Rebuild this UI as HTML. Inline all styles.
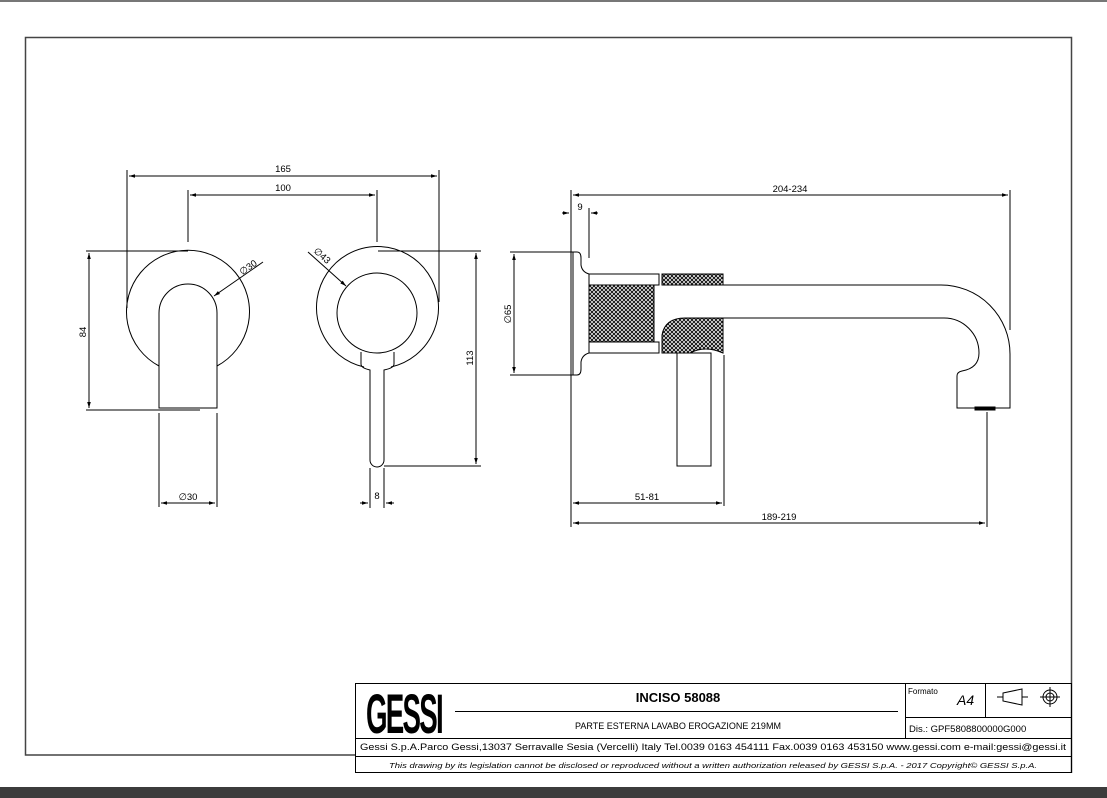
<!DOCTYPE html>
<html><head><meta charset="utf-8"><style>
html,body{margin:0;padding:0;background:#fff}
body{width:1107px;height:798px;overflow:hidden;position:relative;font-family:"Liberation Sans",sans-serif}
svg{position:absolute;left:0;top:0}
text{font-family:"Liberation Sans",sans-serif;fill:#000}
</style></head><body>
<svg width="1107" height="798" viewBox="0 0 1107 798">
<defs>
<pattern id="k" width="4" height="4" patternUnits="userSpaceOnUse">
<rect width="4" height="4" fill="#fff"/>
<path d="M0 0L4 4M4 0L0 4" stroke="#111" stroke-width="1"/>
</pattern>
<marker id="a" viewBox="0 0 10 10" refX="10" refY="5" markerWidth="8" markerHeight="6" orient="auto-start-reverse"><path d="M0 2L10 5L0 8z" fill="#000"/></marker>
</defs>
<rect x="0" y="0" width="1107" height="2" fill="#777"/>
<rect x="0" y="787" width="1107" height="11" fill="#3c3c3c"/>
<path d="M355 755H25.5V37.5H1071.5V773" fill="none" stroke="#444" stroke-width="1.5"/>

<g fill="none" stroke="#000" stroke-width="1">
<line x1="127" y1="170" x2="127" y2="308"/><line x1="439" y1="170" x2="439" y2="302"/>
<line x1="129" y1="176" x2="437" y2="176" marker-start="url(#a)" marker-end="url(#a)"/>
<line x1="188" y1="190" x2="188" y2="242"/><line x1="377" y1="190" x2="377" y2="242"/>
<line x1="190" y1="195" x2="375" y2="195" marker-start="url(#a)" marker-end="url(#a)"/>
<path d="M159 366A61.5 61.5 0 1 1 217 366"/>
<path d="M159 408V313A29 29 0 0 1 217 313V408Z"/>
<line x1="86" y1="251" x2="188" y2="251"/><line x1="86" y1="410" x2="200" y2="410"/>
<line x1="89" y1="253" x2="89" y2="408" marker-start="url(#a)" marker-end="url(#a)"/>
<line x1="263" y1="262" x2="214" y2="296" marker-end="url(#a)"/>
<line x1="159" y1="413" x2="159" y2="507"/><line x1="217" y1="413" x2="217" y2="507"/>
<line x1="161" y1="503" x2="215" y2="503" marker-start="url(#a)" marker-end="url(#a)"/>
<path d="M364 367A61 61 0 1 1 391 367"/>
<circle cx="377" cy="313" r="40"/>
<path d="M361 352V364Q361 368 370 370V460A7 7 0 0 0 384 460V370Q394 368 394 364V352"/>
<line x1="378" y1="251" x2="481" y2="251"/><line x1="384" y1="466" x2="481" y2="466"/>
<line x1="476" y1="253" x2="476" y2="464" marker-start="url(#a)" marker-end="url(#a)"/>
<line x1="308" y1="252" x2="346" y2="286" marker-end="url(#a)"/>
<line x1="370" y1="468" x2="370" y2="508"/><line x1="384" y1="468" x2="384" y2="508"/>
<line x1="360" y1="503" x2="368" y2="503" marker-end="url(#a)"/><line x1="394" y1="503" x2="386" y2="503" marker-end="url(#a)"/>
<line x1="571" y1="190" x2="571" y2="527"/>
<line x1="1010" y1="190" x2="1010" y2="330"/>
<line x1="573" y1="195" x2="1008" y2="195" marker-start="url(#a)" marker-end="url(#a)"/>
<line x1="589" y1="208" x2="589" y2="258"/>
<line x1="562" y1="213" x2="569" y2="213" marker-end="url(#a)"/><line x1="598" y1="213" x2="591" y2="213" marker-end="url(#a)"/>
<path d="M571 252H577Q581 252 581 258V265Q582 272 589 274V353Q582 355 581 362V369Q581 375 577 375H571Z"/>
<line x1="573" y1="252" x2="573" y2="375"/>
<line x1="510" y1="252" x2="571" y2="252"/><line x1="510" y1="375" x2="571" y2="375"/>
<line x1="514" y1="254" x2="514" y2="373" marker-start="url(#a)" marker-end="url(#a)"/>
<rect x="589" y="274" width="70" height="11"/><rect x="589" y="342" width="70" height="11"/>
<rect x="589" y="285" width="65" height="57" fill="url(#k)"/>
<rect x="662" y="274" width="61" height="11" fill="url(#k)"/>
<path d="M662 353V335Q665 318 685 318H723V353Q705 345 690 353Z" fill="url(#k)"/>
<path d="M723 285H941A69 69 0 0 1 1010 354V408H957V376Q957 372 962 371Q979 368 979 353A35 35 0 0 0 944 318H723"/>
<rect x="975" y="407" width="20" height="3" fill="#000"/>
<rect x="677" y="353" width="34" height="113"/>
<line x1="724" y1="355" x2="724" y2="506"/>
<line x1="573" y1="503" x2="722" y2="503" marker-start="url(#a)" marker-end="url(#a)"/>
<line x1="987" y1="412" x2="987" y2="527"/>
<line x1="573" y1="523" x2="985" y2="523" marker-start="url(#a)" marker-end="url(#a)"/>
</g>
<g font-size="9.5" text-anchor="middle">
<text x="283" y="172">165</text><text x="283" y="191">100</text>
<text x="88" y="332" transform="rotate(-90 88 332)" dy="-2">84</text>
<text x="250" y="270" transform="rotate(-35 250 270)">∅30</text>
<text x="188" y="500">∅30</text>
<text x="320" y="258" transform="rotate(42 320 258)">∅43</text>
<text x="473" y="358" transform="rotate(-90 473 358)">113</text>
<text x="377" y="499">8</text>
<text x="790" y="192">204-234</text>
<text x="580" y="210">9</text>
<text x="511" y="314" transform="rotate(-90 511 314)">∅65</text>
<text x="647" y="500">51-81</text>
<text x="779" y="520">189-219</text>
</g>
<g fill="none" stroke="#000" stroke-width="1">
<rect x="355.5" y="683.5" width="716" height="89"/>
<line x1="355" y1="738.5" x2="1072" y2="738.5"/>
<line x1="355" y1="756.5" x2="1072" y2="756.5"/>
<line x1="905.5" y1="683" x2="905.5" y2="738"/>
<line x1="985.5" y1="683" x2="985.5" y2="717"/>
<line x1="905" y1="717.5" x2="1072" y2="717.5"/>
<line x1="455" y1="711.5" x2="898" y2="711.5"/>
<path d="M1003 693L1022 689V705L1003 701Z"/><line x1="997" y1="697" x2="1003" y2="697"/><line x1="1022" y1="697" x2="1028" y2="697"/>
<circle cx="1050" cy="697" r="7"/><circle cx="1050" cy="697" r="4"/>
<line x1="1040" y1="697" x2="1060" y2="697"/><line x1="1050" y1="687" x2="1050" y2="707"/>
</g>
<text transform="translate(366 733) scale(1 1.75)" font-size="32" font-weight="bold" textLength="76" lengthAdjust="spacingAndGlyphs" letter-spacing="-2">GESSI</text>
<text x="678" y="702" font-size="13" font-weight="bold" text-anchor="middle">INCISO 58088</text>
<text x="678" y="729" font-size="9" text-anchor="middle">PARTE ESTERNA LAVABO EROGAZIONE 219MM</text>
<text x="908" y="694" font-size="8">Formato</text>
<text x="957" y="705" font-size="14" font-style="italic">A4</text>
<text x="909" y="732" font-size="9.5">Dis.: GPF5808800000G000</text>
<text x="713" y="750" font-size="9" text-anchor="middle" textLength="706" lengthAdjust="spacingAndGlyphs">Gessi S.p.A.Parco Gessi,13037 Serravalle Sesia (Vercelli) Italy Tel.0039 0163 454111 Fax.0039 0163 453150 www.gessi.com e-mail:gessi@gessi.it</text>
<text x="713" y="768" font-size="7.5" font-style="italic" text-anchor="middle" textLength="648" lengthAdjust="spacingAndGlyphs">This drawing by its legislation cannot be disclosed or reproduced without a written authorization released by GESSI S.p.A. - 2017 Copyright© GESSI S.p.A.</text>
</svg>
</body></html>
